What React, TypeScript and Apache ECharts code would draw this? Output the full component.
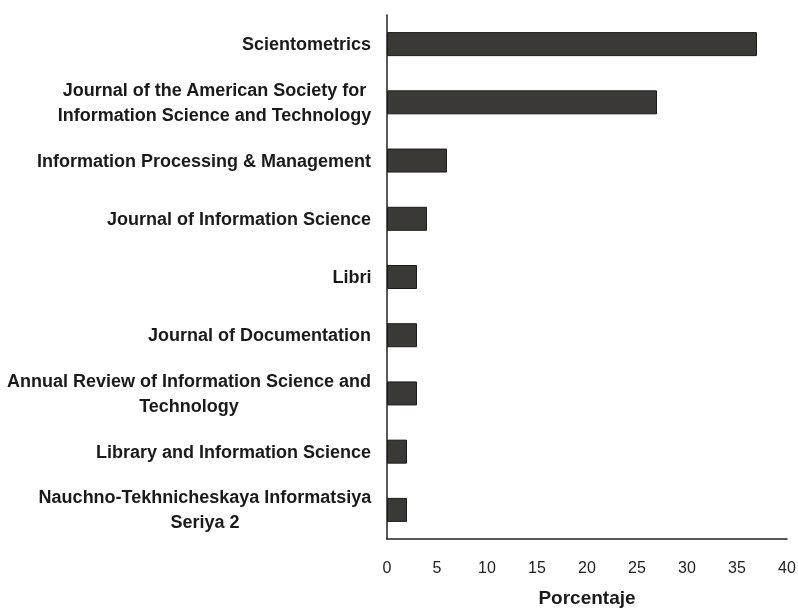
import React, { useEffect, useRef } from "react";
import * as echarts from "echarts";

const categories: string[] = [
  "Scientometrics",
  "Journal of the American Society for\nInformation Science and Technology",
  "Information Processing & Management",
  "Journal of Information Science",
  "Libri",
  "Journal of Documentation",
  "Annual Review of Information Science and\nTechnology",
  "Library and Information Science",
  "Nauchno-Tekhnicheskaya Informatsiya\nSeriya 2",
];
const values: number[] = [37, 27, 6, 4, 3, 3, 3, 2, 2];
const xTicks = { min: 0, max: 40, interval: 5 };
const xName = "Porcentaje";

const FONT = "'Liberation Sans', Arial, sans-serif";
const LABEL_SIZE = 18;

export default function App() {
  const ref = useRef<HTMLDivElement>(null);
  useEffect(() => {
    if (!ref.current) return;
    const chart = echarts.init(ref.current, undefined, { renderer: "svg" });
    const ctx = document.createElement("canvas").getContext("2d")!;
    ctx.font = `bold ${LABEL_SIZE}px ${FONT}`;
    const rich: Record<string, any> = {};
    categories.forEach((c, i) => {
      const lines = c.split("\n");
      const w = Math.max(...lines.map((l) => ctx.measureText(l).width));
      rich["c" + i] = {
        width: Math.ceil(w) + 1,
        align: "center",
        fontSize: LABEL_SIZE,
        fontWeight: "bold",
        fontFamily: FONT,
        color: "#1a1a1a",
        lineHeight: 25,
      };
    });
    chart.setOption({
      animation: false,
      grid: { left: 387, right: 11, top: 15, bottom: 71, outerBoundsMode: "none", containLabel: false },
      xAxis: {
        type: "value",
        min: xTicks.min,
        max: xTicks.max,
        interval: xTicks.interval,
        name: xName,
        nameLocation: "middle",
        nameGap: 49,
        nameTextStyle: { fontSize: 19, fontWeight: "bold", fontFamily: FONT, color: "#1a1a1a" },
        axisLine: { show: true, lineStyle: { color: "#222", width: 1.5 } },
        axisTick: { show: false },
        splitLine: { show: false },
        axisLabel: { fontSize: 16, fontFamily: FONT, color: "#222", margin: 20 },
      },
      yAxis: {
        type: "category",
        inverse: true,
        data: categories,
        axisLine: { show: true, onZero: false, lineStyle: { color: "#222", width: 1.5 } },
        axisTick: { show: false },
        axisLabel: {
          margin: 15,
          interval: 0,
          fontSize: LABEL_SIZE,
          fontWeight: "bold",
          fontFamily: FONT,
          color: "#1a1a1a",
          lineHeight: 25,
          formatter: (v: string) => {
            const idx = categories.indexOf(v);
            return v
              .split("\n")
              .map((l) => `{c${idx}|${l}}`)
              .join("\n");
          },
          rich,
        },
      },
      series: [
        {
          type: "bar",
          data: values,
          barWidth: 24,
          itemStyle: { color: "#3a3935", borderColor: "#1a1a1a", borderWidth: 1 },
        },
      ],
    });
    return () => chart.dispose();
  }, []);
  return (
    <div
      ref={ref}
      style={{ position: "fixed", left: 0, top: 0, width: 798, height: 610 }}
    />
  );
}
